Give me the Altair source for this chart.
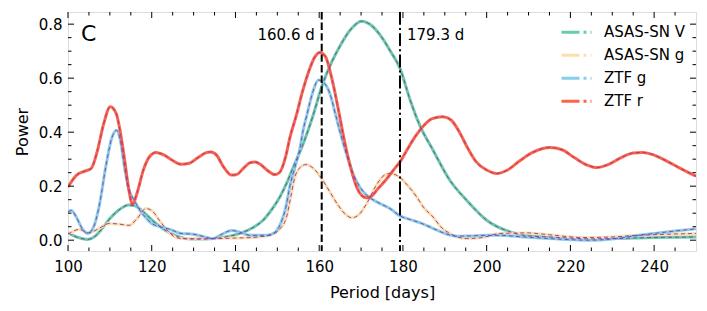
import altair as alt
import pandas as pd

names = ["ASAS-SN V", "ASAS-SN g", "ZTF g", "ZTF r"]
colors = ["#66CDAA", "#FFDEAD", "#87CEEB", "#FF6347"]

v_p = [100, 102, 104.7, 106.5, 108, 110, 112, 114.5, 116, 118, 120, 122, 124, 126, 128, 131, 134.7, 138,
       141.1, 144, 146.6, 148.5, 150.6, 152.2, 153.8, 156.2, 158.5, 160.6, 163, 165, 167.5, 170.1, 172.5,
       175, 177, 179.3, 181.7, 184, 187.2, 191.2, 195.2, 200, 205.6, 210, 215, 220, 225, 230, 235, 240, 245, 250]
v_pow = [0.027, 0.012, 0.003, 0.015, 0.04, 0.08, 0.11, 0.13, 0.127, 0.105, 0.075, 0.05, 0.03, 0.015, 0.006,
         0.004, 0.006, 0.013, 0.025, 0.045, 0.074, 0.11, 0.16, 0.21, 0.27, 0.358, 0.46, 0.568, 0.66, 0.72,
         0.78, 0.811, 0.795, 0.75, 0.70, 0.636, 0.52, 0.426, 0.333, 0.222, 0.148, 0.074, 0.031, 0.016, 0.012,
         0.008, 0.005, 0.006, 0.008, 0.01, 0.011, 0.012]

ag_p = [100, 102.7, 105, 107, 109.9, 112, 114.6, 116.5, 118.6, 120, 121.8, 123.5, 125.8, 128, 132, 136, 140,
        144, 146, 148.5, 150.5, 152.2, 153.2, 154.2, 155.5, 156.8, 159, 160.6, 162.5, 164.5, 166, 167.8, 169.5,
        171.5, 173.5, 175.5, 176.9, 179.3, 181, 183.3, 185, 187.2, 189, 191.2, 195.2, 199, 203.2, 209.6, 215,
        223, 230, 236, 243, 250]
ag_pow = [0.022, 0.04, 0.027, 0.04, 0.062, 0.06, 0.055, 0.08, 0.117, 0.11, 0.074, 0.04, 0.01, 0.005, 0.005,
          0.006, 0.008, 0.01, 0.013, 0.02, 0.04, 0.086, 0.16, 0.234, 0.27, 0.28, 0.26, 0.228, 0.18, 0.13, 0.1,
          0.083, 0.095, 0.14, 0.2, 0.24, 0.247, 0.232, 0.205, 0.16, 0.12, 0.086, 0.05, 0.025, 0.006, 0.01,
          0.025, 0.027, 0.02, 0.01, 0.012, 0.018, 0.022, 0.025]

zg_p = [100, 100.8, 102, 103.5, 104.7, 106, 107.5, 109, 110.5, 111.6, 112.5, 113.5, 114.5, 115.8, 117, 118.5,
        120, 122, 124.4, 127, 130, 132, 134.6, 136.5, 139.1, 141, 143.5, 147.5, 149.5, 151, 152, 153, 154.2,
        155.4, 156.2, 157, 158.5, 159.8, 161, 162.5, 164, 165, 166.5, 168, 169, 170, 171.3, 174, 176.9, 179.3,
        182, 184, 187, 190, 192.8, 196, 200, 203.2, 207.9, 211, 215, 220, 224, 228, 232, 235, 240, 245, 250]
zg_pow = [0.105, 0.11, 0.085, 0.04, 0.025, 0.045, 0.13, 0.27, 0.38, 0.407, 0.37, 0.27, 0.19, 0.148, 0.115,
          0.085, 0.062, 0.05, 0.04, 0.025, 0.022, 0.015, 0.006, 0.02, 0.036, 0.03, 0.018, 0.018, 0.03, 0.07,
          0.12, 0.2, 0.27, 0.34, 0.41, 0.46, 0.55, 0.593, 0.585, 0.545, 0.46, 0.40, 0.32, 0.25, 0.216, 0.19,
          0.167, 0.14, 0.117, 0.09, 0.075, 0.065, 0.045, 0.025, 0.015, 0.016, 0.018, 0.018, 0.013, 0.01,
          0.006, 0.002, 0.0, 0.002, 0.008, 0.015, 0.025, 0.034, 0.042]

zr_p = [100, 102, 103.9, 105.5, 107, 108.5, 110.1, 111.5, 112.5, 113.5, 114.5, 115.4, 116.5, 118, 119.5, 121,
        123, 125, 127, 129, 131, 133, 134.1, 135.5, 137, 139.1, 140.5, 142, 143.5, 144.7, 146, 147.5, 149.4,
        150.5, 152, 153, 154.5, 156, 157.5, 159, 160.2, 161.5, 163, 164.5, 166, 167.5, 169, 170.2, 171.3,
        172.5, 174, 176, 178, 179.3, 181, 183, 185, 187, 189.6, 191.5, 193.5, 195.5, 197.5, 200, 202.4, 205,
        208, 211, 215.1, 218, 221, 224, 226.3, 229, 232, 235, 237.3, 240, 243, 246, 250]
zr_pow = [0.197, 0.24, 0.255, 0.265, 0.33, 0.43, 0.494, 0.47, 0.40, 0.30, 0.19, 0.133, 0.175, 0.26, 0.31,
          0.325, 0.315, 0.295, 0.281, 0.285, 0.305, 0.324, 0.327, 0.315, 0.275, 0.241, 0.245, 0.268, 0.287,
          0.29, 0.28, 0.26, 0.243, 0.25, 0.31, 0.38, 0.46, 0.55, 0.625, 0.68, 0.695, 0.68, 0.60, 0.49, 0.37,
          0.27, 0.195, 0.165, 0.157, 0.163, 0.19, 0.225, 0.265, 0.29, 0.335, 0.385, 0.425, 0.45, 0.457, 0.445,
          0.40, 0.34, 0.29, 0.26, 0.247, 0.26, 0.295, 0.325, 0.343, 0.335, 0.305, 0.278, 0.269, 0.28, 0.305,
          0.323, 0.325, 0.315, 0.293, 0.268, 0.237]

peaks = [160.6, 179.3]
peak_labels = ["160.6 d", "179.3 d"]

x_major = [100, 120, 140, 160, 180, 200, 220, 240]
x_minor = [p for p in range(105, 250, 5) if p % 20 != 0]
y_major = [0.0, 0.2, 0.4, 0.6, 0.8]
y_minor = [0.05, 0.1, 0.15, 0.25, 0.3, 0.35, 0.45, 0.5, 0.55, 0.65, 0.7, 0.75]

rows = []
for name, ps, ws in zip(names, [v_p, ag_p, zg_p, zr_p], [v_pow, ag_pow, zg_pow, zr_pow]):
    for p, w in zip(ps, ws):
        rows.append({"series": name, "period": p, "power": w})
df = pd.DataFrame(rows)

W, H = 628, 239
xs = alt.Scale(domain=[100, 250], nice=False, zero=False)
ys = alt.Scale(domain=[-0.04, 0.845], nice=False, zero=False)
FONT = "DejaVu Sans"

base = alt.Chart(df)
colored = base.mark_line(strokeWidth=3, interpolate="monotone", clip=True).encode(
    x=alt.X("period:Q", scale=xs,
            axis=alt.Axis(values=x_major, title="Period [days]", ticks=False, domain=False, grid=False,
                          labelFlush=False, labelFontSize=15, titleFontSize=16, titleFontWeight="normal",
                          labelPadding=8, titlePadding=10, labelFont=FONT, titleFont=FONT,
                          labelColor="black", titleColor="black")),
    y=alt.Y("power:Q", scale=ys,
            axis=alt.Axis(values=y_major, format=".1f", title="Power", ticks=False, domain=False, grid=False,
                          labelFlush=False, labelFontSize=15, titleFontSize=16, titleFontWeight="normal",
                          labelPadding=6, titlePadding=8, labelFont=FONT, titleFont=FONT,
                          labelColor="black", titleColor="black")),
    color=alt.Color("series:N", scale=alt.Scale(domain=names, range=colors),
                    legend=alt.Legend(title=None, orient="none", legendX=492, legendY=10,
                                      symbolType="stroke", symbolSize=900, symbolStrokeWidth=3,
                                      symbolDash=[18, 4, 3, 4], labelFontSize=15, labelFont=FONT,
                                      labelColor="black", labelOffset=11, rowPadding=2, clipHeight=20.3,
                                      padding=0)),
    order=alt.Order("period:Q"),
)
dashed = base.mark_line(strokeWidth=1.0, strokeDash=[4, 3], color="#8B3A9C", opacity=0.9,
                        interpolate="monotone", clip=True).encode(
    x=alt.X("period:Q", scale=xs),
    y=alt.Y("power:Q", scale=ys),
    detail="series:N",
    order=alt.Order("period:Q"),
)

pk = pd.DataFrame({"period": peaks, "label": peak_labels})
rule1 = alt.Chart(pk.iloc[[0]]).mark_rule(color="black", strokeWidth=2, strokeDash=[7.4, 3.2]).encode(
    x=alt.X("period:Q", scale=xs))
rule2 = alt.Chart(pk.iloc[[1]]).mark_rule(color="black", strokeWidth=2, strokeDash=[12.8, 3.2, 2, 3.2]).encode(
    x=alt.X("period:Q", scale=xs))
txt1 = alt.Chart(pk.iloc[[0]]).mark_text(align="right", baseline="middle", dx=-7, fontSize=15, font=FONT,
                                         color="black").encode(
    x=alt.X("period:Q", scale=xs), y=alt.value(23), text="label:N")
txt2 = alt.Chart(pk.iloc[[1]]).mark_text(align="left", baseline="middle", dx=7, fontSize=15, font=FONT,
                                         color="black").encode(
    x=alt.X("period:Q", scale=xs), y=alt.value(23), text="label:N")
panel = alt.Chart(pd.DataFrame({"t": ["C"]})).mark_text(align="left", baseline="middle", fontSize=22,
                                                         font=FONT, color="black").encode(
    x=alt.value(13), y=alt.value(22), text="t:N")

def xticks(vals, L):
    d = pd.DataFrame({"tx": vals})
    b = alt.Chart(d).mark_rule(color="black", strokeWidth=1)
    return [b.encode(x=alt.X("tx:Q", scale=xs), y=alt.value(H), y2=alt.value(H - L)),
            b.encode(x=alt.X("tx:Q", scale=xs), y=alt.value(0), y2=alt.value(L))]

def yticks(vals, L):
    d = pd.DataFrame({"ty": vals})
    b = alt.Chart(d).mark_rule(color="black", strokeWidth=1)
    return [b.encode(y=alt.Y("ty:Q", scale=ys), x=alt.value(0), x2=alt.value(L)),
            b.encode(y=alt.Y("ty:Q", scale=ys), x=alt.value(W), x2=alt.value(W - L))]

ticks = xticks(x_major, 6) + xticks(x_minor, 3.5) + yticks(y_major, 6) + yticks(y_minor, 3.5)

chart = alt.layer(colored, dashed, rule1, rule2, txt1, txt2, panel, *ticks).properties(
    width=W, height=H,
    autosize=alt.AutoSizeParams(type="none"),
    padding={"left": 60, "top": 4, "right": 2, "bottom": 50},
).configure_view(stroke="black", strokeWidth=1.2).configure(background="white")

chart.save("out.html", embed_options={"renderer": "svg", "actions": False})
